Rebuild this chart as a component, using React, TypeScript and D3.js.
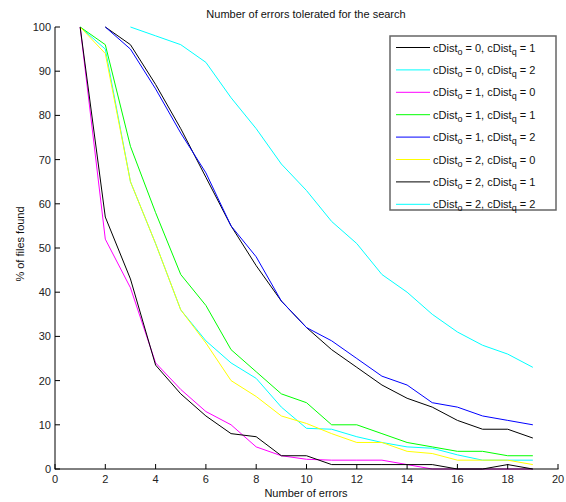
import React from "react";
import * as d3 from "d3";

const xTicks = [0, 2, 4, 6, 8, 10, 12, 14, 16, 18, 20];
const yTicks = [0, 10, 20, 30, 40, 50, 60, 70, 80, 90, 100];

const seriesLabels = [
  ["0", "1"],
  ["0", "2"],
  ["1", "0"],
  ["1", "1"],
  ["1", "2"],
  ["2", "0"],
  ["2", "1"],
  ["2", "2"],
];
const seriesColors = ["#000000", "#00ffff", "#ff00ff", "#00ff00", "#0000ff", "#ffff00", "#000000", "#00ffff"];
const seriesStart = [2, 1, 1, 1, 2, 1, 1, 3];

const s01 = [100, 96, 87, 77, 66, 55, 46, 38, 32, 27, 23, 19, 16, 14, 11, 9, 9, 7];
const s02 = [100, 95, 65, 51, 36, 29, 24, 20.5, 14, 9.2, 9, 7.3, 6, 5, 4.7, 3.2, 2, 2, 2];
const s10 = [100, 52, 41, 24, 18, 13, 10, 5, 3, 2.2, 2, 2, 2, 1, 0, 0, 0, 0, 0];
const s11 = [100, 96, 73, 58, 44, 37, 27, 22, 17, 15, 10, 10, 8, 6, 5, 4, 4, 3, 3];
const s12 = [100, 95, 86, 76, 67, 55, 48, 38, 32, 29, 25, 21, 19, 15, 14, 12, 11, 10];
const s20 = [100, 94, 65, 51, 36, 28.5, 20, 16.4, 12, 10.3, 8, 6, 6, 4, 3.5, 2, 2, 2, 1];
const s21 = [100, 57, 43, 23.5, 17, 12, 8, 7.3, 3, 3, 1, 1, 1, 1, 1, 0, 0, 1, 0];
const s22 = [100, 98, 96, 92, 84, 77, 69, 63, 56, 51, 44, 40, 35, 31, 28, 26, 23];

const seriesValues = [s01, s02, s10, s11, s12, s20, s21, s22];

const W = 566;
const H = 502;
const font = "'Liberation Sans', Arial, sans-serif";

export default function App() {
  const x = d3.scaleLinear().domain([0, 20]).range([55, 558]);
  const y = d3.scaleLinear().domain([0, 100]).range([469, 27]);
  const line = d3
    .line<[number, number]>()
    .x((d) => x(d[0]))
    .y((d) => y(d[1]));

  const legX = 390;
  const legY = 36;
  const legW = 166;
  const legH = 174;
  const rowY = (i: number) => legY + 11.5 + i * 22.4;

  return (
    <svg
      width={W}
      height={H}
      viewBox={`0 0 ${W} ${H}`}
      style={{ position: "absolute", left: 0, top: 0, background: "#fff" }}
      fontFamily={font}
    >
      <rect x={0} y={0} width={W} height={H} fill="#fff" />
      {/* series */}
      {seriesValues.map((vals, i) => {
        const pts = vals.map((v, j) => [seriesStart[i] + j, v] as [number, number]);
        return (
          <path
            key={i}
            d={line(pts) || ""}
            fill="none"
            stroke={seriesColors[i]}
            strokeWidth={1}
          />
        );
      })}
      {/* axes */}
      <line x1={55} x2={55} y1={27} y2={469.5} stroke="#000" strokeWidth={1} />
      <line x1={55} x2={558.5} y1={469} y2={469} stroke="#000" strokeWidth={1} />
      {xTicks.map((t) => (
        <g key={"x" + t}>
          <line x1={x(t)} x2={x(t)} y1={469} y2={464} stroke="#000" strokeWidth={1} />
          <text x={x(t)} y={483} fontSize={11} textAnchor="middle" fill="#222">
            {t}
          </text>
        </g>
      ))}
      {yTicks.map((t) => (
        <g key={"y" + t}>
          <line x1={55} x2={60} y1={y(t)} y2={y(t)} stroke="#000" strokeWidth={1} />
          <text x={51} y={y(t) + 4} fontSize={11} textAnchor="end" fill="#222">
            {t}
          </text>
        </g>
      ))}
      {/* title & labels */}
      <text x={306} y={18} fontSize={11} textAnchor="middle" fill="#111">
        Number of errors tolerated for the search
      </text>
      <text x={306} y={497} fontSize={11} textAnchor="middle" fill="#111">
        Number of errors
      </text>
      <text
        transform="translate(24,244) rotate(-90)"
        fontSize={11}
        textAnchor="middle"
        fill="#111"
      >
        % of files found
      </text>
      {/* legend */}
      <rect x={legX} y={legY} width={legW} height={legH} fill="#fff" stroke="#666" strokeWidth={1.5} />
      {seriesLabels.map((lab, i) => (
        <g key={"l" + i}>
          <line x1={396} x2={430} y1={rowY(i)} y2={rowY(i)} stroke={seriesColors[i]} strokeWidth={1} />
          <text x={433} y={rowY(i) + 4} fontSize={11} fill="#111">
            cDist
            <tspan fontSize={9} dy={3}>o</tspan>
            <tspan dy={-3}>{` = ${lab[0]}, cDist`}</tspan>
            <tspan fontSize={9} dy={3}>q</tspan>
            <tspan dy={-3}>{` = ${lab[1]}`}</tspan>
          </text>
        </g>
      ))}
    </svg>
  );
}
